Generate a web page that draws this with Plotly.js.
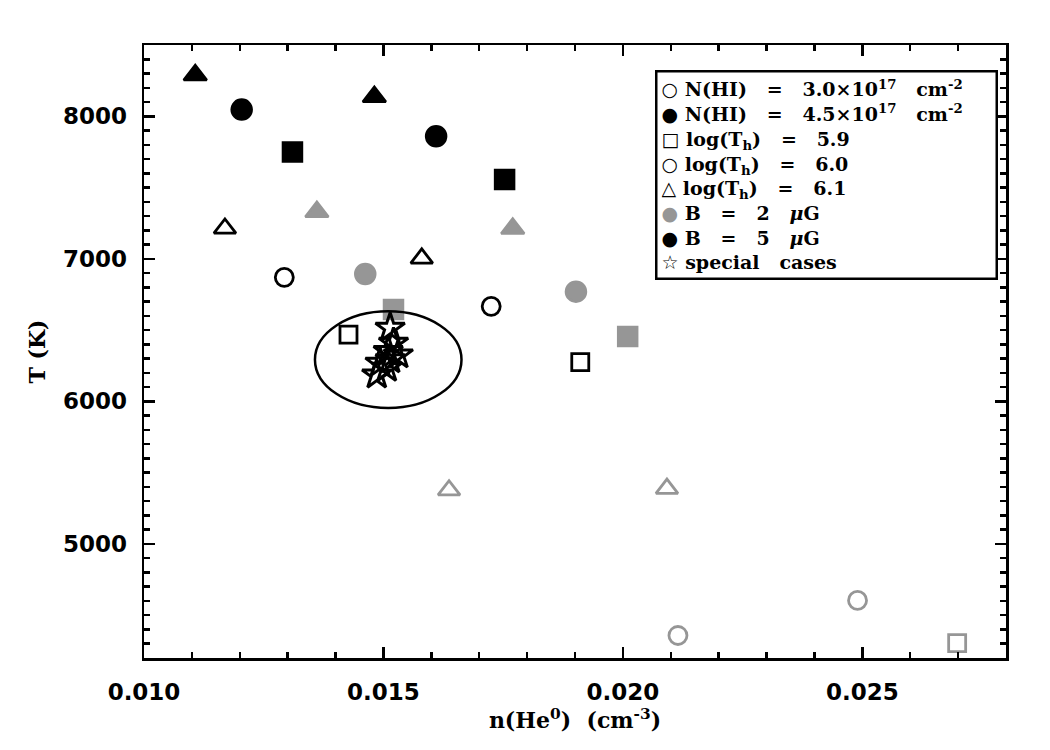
<!DOCTYPE html>
<html>
<head>
<meta charset="utf-8">
<script src="https://cdn.plot.ly/plotly-3.0.1.min.js"></script>
<style>
  html, body { margin: 0; padding: 0; background: #fff; }
  #chart { width: 1050px; height: 750px; }
</style>
</head>
<body>
<div id="chart"></div>
<script>
/* -------------------- Data -------------------- */

// n(He0) in cm^-3, T in K
const blackTriUpX = [0.01107, 0.01481];
const blackTriUpY = [8290, 8137];
const blackCircX = [0.01204, 0.01610];
const blackCircY = [8047, 7860];
const blackSqX = [0.01310, 0.01753];
const blackSqY = [7750, 7556];
const grayTriX = [0.01361, 0.01770];
const grayTriY = [7330, 7213];
const openTriX = [0.01169, 0.01580];
const openTriY = [7213, 7003];
const openCircX = [0.01293, 0.01725];
const openCircY = [6870, 6667];
const grayCircX = [0.01462, 0.01902];
const grayCircY = [6894, 6770];
const graySqX = [0.01521, 0.02010];
const graySqY = [6644, 6456];
const openSqX = [0.01427, 0.01911];
const openSqY = [6468, 6276];
const grayOpenTriX = [0.01637, 0.02092];
const grayOpenTriY = [5377, 5388];
const grayOpenCircX = [0.02115, 0.02490];
const grayOpenCircY = [4358, 4604];
const grayOpenSqX = [0.02698];
const grayOpenSqY = [4304];
const starX = [0.01514, 0.01521, 0.01510, 0.01531, 0.01493, 0.01514, 0.01486, 0.01507];
const starY = [6515, 6410, 6351, 6328, 6270, 6293, 6187, 6234];

// ellipse round the special cases: centre and half axes
const ellipseCenter = [0.0151, 6293];
const ellipseHalf = [0.00153, 339];

// legend rows (drawn as one boxed text)
const SP = "\u00a0\u00a0\u00a0";
const legendLabels = [
  `N(HI)${SP}=${SP}3.0×10<sup>17</sup>${SP}cm<sup>-2</sup>`,
  `N(HI)${SP}=${SP}4.5×10<sup>17</sup>${SP}cm<sup>-2</sup>`,
  `log(T<sub>h</sub>)${SP}=${SP}5.9`,
  `log(T<sub>h</sub>)${SP}=${SP}6.0`,
  `log(T<sub>h</sub>)${SP}=${SP}6.1`,
  `B${SP}=${SP}2${SP}<i>μ</i>G`,
  `B${SP}=${SP}5${SP}<i>μ</i>G`,
  `special${SP}cases`,
];
const legendGlyphs = ["○", "●", "□", "○", "△", "●", "●", "☆"];
const legendColors = ["#000000", "#000000", "#000000", "#000000", "#000000", "#969696", "#000000", "#000000"];

/* -------------------- Traces -------------------- */

const BLACK = "#000000";
const GRAY = "#969696";

function pts(x, y, symbol, color, size, lw) {
  return {
    x: x, y: y,
    type: "scatter",
    mode: "markers",
    showlegend: false,
    hoverinfo: "skip",
    marker: {
      symbol: symbol,
      size: size,
      color: color,
      line: { color: color, width: lw || 2.5 },
    },
  };
}

const traces = [
  pts(blackTriUpX, blackTriUpY, "triangle-up", BLACK, 20),
  pts(blackCircX, blackCircY, "circle", BLACK, 20),
  pts(blackSqX, blackSqY, "square", BLACK, 19),
  pts(grayTriX, grayTriY, "triangle-up", GRAY, 20),
  pts(openTriX, openTriY, "triangle-up-open", BLACK, 19, 2.8),
  pts(openCircX, openCircY, "circle-open", BLACK, 18, 2.8),
  pts(grayCircX, grayCircY, "circle", GRAY, 20),
  pts(graySqX, graySqY, "square", GRAY, 19),
  pts(openSqX, openSqY, "square-open", BLACK, 17, 2.8),
  pts(grayOpenTriX, grayOpenTriY, "triangle-up-open", GRAY, 19, 2.8),
  pts(grayOpenCircX, grayOpenCircY, "circle-open", GRAY, 18, 2.8),
  pts(grayOpenSqX, grayOpenSqY, "square-open", GRAY, 17, 2.8),
  pts(starX, starY, "star-open", BLACK, 22, 3),
];

/* -------------------- Layout -------------------- */

const tickFont = { family: "DejaVu Sans", size: 23, color: "#000", weight: "bold" };

const legendText = legendLabels.map((label, i) =>
  `<span style="font-family:'DejaVu Sans';font-size:19px;fill:${legendColors[i]}">${legendGlyphs[i]}</span>\u00a0${label}`
).join("<br>");

const layout = {
  width: 1050,
  height: 750,
  margin: { l: 144, r: 44, t: 45, b: 92 },
  paper_bgcolor: "#fff",
  plot_bgcolor: "#fff",
  showlegend: false,
  xaxis: {
    range: [0.010, 0.028],
    tick0: 0.010,
    dtick: 0.005,
    tickformat: ".3f",
    ticks: "inside",
    ticklen: 11,
    tickwidth: 2.5,
    tickcolor: "#000",
    mirror: "ticks",
    showline: true,
    linecolor: "#000",
    linewidth: 2.5,
    showgrid: false,
    zeroline: false,
    ticklabelstandoff: 12,
    tickfont: tickFont,
    minor: { dtick: 0.001, ticks: "inside", ticklen: 6, tickwidth: 2.5, tickcolor: "#000", showgrid: false },
    title: {
      text: "n(He<sup>0</sup>)\u00a0\u00a0(cm<sup>-3</sup>)",
      font: { family: "DejaVu Serif", size: 22, color: "#000", weight: "bold" },
      standoff: 4,
    },
  },
  yaxis: {
    range: [4200, 8500],
    tick0: 0,
    dtick: 1000,
    ticks: "inside",
    ticklen: 11,
    tickwidth: 2.5,
    tickcolor: "#000",
    mirror: "ticks",
    showline: true,
    linecolor: "#000",
    linewidth: 2.5,
    showgrid: false,
    zeroline: false,
    ticklabelstandoff: 10,
    tickfont: tickFont,
    minor: { dtick: 100, ticks: "inside", ticklen: 6, tickwidth: 2.5, tickcolor: "#000", showgrid: false },
    title: {
      text: "T (K)",
      font: { family: "DejaVu Serif", size: 22, color: "#000", weight: "bold" },
      standoff: 11,
    },
  },
  shapes: [{
    type: "circle",
    xref: "x", yref: "y",
    x0: ellipseCenter[0] - ellipseHalf[0],
    x1: ellipseCenter[0] + ellipseHalf[0],
    y0: ellipseCenter[1] - ellipseHalf[1],
    y1: ellipseCenter[1] + ellipseHalf[1],
    line: { color: "#000", width: 2.5 },
    layer: "above",
  }],
  annotations: [{
    xref: "paper", yref: "paper",
    x: 0.5928, y: 0.9592,
    xanchor: "left", yanchor: "top",
    showarrow: false,
    align: "left",
    width: 330,
    text: legendText,
    font: { family: "DejaVu Serif", size: 19, color: "#000", weight: "bold" },
    bgcolor: "#fff",
    bordercolor: "#000",
    borderwidth: 2.5,
    borderpad: 4,
  }],
};

Plotly.newPlot("chart", traces, layout, { displayModeBar: false, staticPlot: true });
</script>
</body>
</html>
